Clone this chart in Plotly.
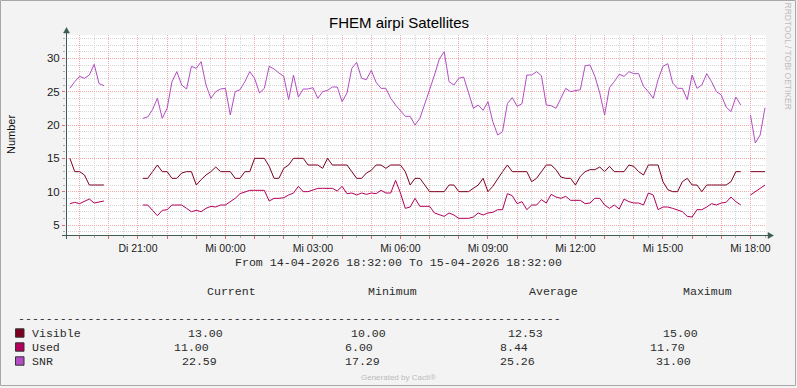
import plotly.graph_objects as go
import pandas as pd

N = None
# 10-minute samples from 14-04-2026 18:40 to 15-04-2026 18:30
times = pd.date_range("2026-04-14 18:40", "2026-04-15 18:30", freq="10min")

visible = [
    15, 13, 13, 12.5, 11, 11, 11, 11,            # 18:40-19:50
    N, N, N, N, N, N, N,                         # 20:00-21:00
    12, 12, 13, 14, 13,                          # 21:10-21:50
    13, 12, 12, 12.8, 13, 13,                    # 22
    11, 11.8, 12.5, 13, 13.7, 13,                # 23
    13, 13, 12, 12, 13, 13,                      # 00
    15, 15, 15, 13.8, 12, 12,                    # 01
    13.5, 14, 15, 15, 15, 14,                    # 02
    14, 14, 13.5, 15, 14, 14,                    # 03
    14, 14, 13, 12, 12, 12.8,                    # 04
    13.2, 14, 14, 13.5, 14, 14,                  # 05
    14, 13, 11, 12, 12, 11,                      # 06
    10, 10, 10, 10, 11, 11,                      # 07
    10, 10, 10, 10.5, 11, 12,                    # 08
    10, 10.8, 12, 13, 14, 13,                    # 09
    13, 13, 13, 11.5, 12, 13,                    # 10
    14, 14, 13.3, 12.2, 12, 12,                  # 11
    11, 12.3, 13, 13.3, 13.3, 13.7,              # 12
    13, 13.8, 13, 13, 13, 14,                    # 13
    13.8, 13, 12.5, 14, 14, 14,                  # 14
    11.5, 10.3, 10, 10, 11.5, 12,                # 15
    11, 11, 10, 11, 11, 11,                      # 16
    11, 11, 11.5, 13, 13, N,                     # 17
    13, 13, 13, 13,                              # 18
]

used = [
    8.2, 8.4, 8.2, 8.6, 8.9, 8.3, 8.4, 8.6,
    N, N, N, N, N, N, N,
    8.0, 8.0, 7.2, 6.4, 7.2,
    7.3, 8.0, 8.0, 8.0, 7.5, 7.0,
    7.2, 7.0, 7.5, 7.8, 7.7, 8.0,
    8.0, 8.5, 9.0, 9.7, 10.0, 10.2,
    10.2, 10.2, 10.2, 8.6, 9.0, 9.0,
    9.1, 9.5, 9.8, 10.8, 10.0, 10.0,
    10.3, 10.5, 10.5, 10.5, 10.5, 10.1,
    10.8, 9.7, 9.8, 9.5, 9.8, 9.6,
    9.8, 9.7, 10.2, 9.8, 9.8, 11.7,
    9.8, 7.5, 7.7, 9.0, 7.8, 7.8,
    7.8, 6.8, 6.6, 6.3, 6.8, 6.5,
    6.0, 6.0, 6.0, 6.2, 6.8, 6.5,
    6.8, 6.9, 7.3, 7.3, 9.7, 9.4,
    8.2, 8.5, 7.3, 8.0, 8.0, 8.8,
    8.3, 9.6, 9.2, 9.0, 9.3, 8.7,
    8.7, 8.7, 8.2, 8.3, 9.0, 9.0,
    8.0, 7.5, 8.0, 7.4, 8.9, 8.5,
    8.3, 8.3, 8.0, 9.8, 9.5, 7.3,
    7.7, 7.7, 7.5, 7.2, 7.0, 6.3,
    6.2, 7.3, 7.3, 7.7, 8.2, 8.0,
    8.3, 8.4, 9.2, 8.5, 8.0, N,
    9.5, 10.0, 10.4, 11.0,
]

snr = [
    25.5, 26.5, 27.3, 27.0, 27.5, 29.1, 26.2, 25.9,
    N, N, N, N, N, N, N,
    21.0, 21.2, 22.3, 24.0, 21.0,
    22.5, 26.5, 28.0, 26.0, 25.4, 28.8,
    28.5, 29.5, 26.0, 24.0, 25.0, 25.4,
    25.5, 21.5, 25.0, 25.3, 26.5, 28.0,
    27.0, 24.8, 25.5, 28.8, 28.4, 27.8,
    27.3, 23.8, 27.5, 24.2, 25.4, 25.4,
    25.6, 24.0, 25.0, 25.2, 25.7, 25.7,
    23.5, 24.8, 28.5, 29.4, 27.0, 26.8,
    28.2, 26.4, 25.5, 25.5, 24.0, 23.0,
    22.2, 21.3, 21.3, 20.0, 21.0, 23.0,
    25.3, 27.5, 29.9, 31.0, 26.5, 26.0,
    27.0, 27.2, 25.0, 22.5, 23.0, 22.2,
    23.5, 20.5, 18.5, 19.0, 23.2, 24.1,
    22.8, 23.2, 27.5, 27.5, 28.0, 27.4,
    23.0, 22.9, 22.5, 24.0, 25.5, 25.0,
    25.2, 25.3, 28.9, 29.0, 27.3, 24.8,
    21.5, 25.6, 26.5, 27.6, 27.3, 28.0,
    27.7, 27.7, 25.8, 25.0, 24.0, 26.8,
    28.8, 29.2, 26.3, 25.5, 25.5, 23.8,
    27.5, 25.5, 26.0, 27.7, 26.5, 25.0,
    24.5, 22.7, 22.0, 24.2, 23.0, N,
    21.5, 17.3, 18.5, 22.59,
]

series_names = ["Visible", "Used", "SNR"]
series_colors = ["#7E0021", "#B3005C", "#B44CC4"]
stat_current = ["13.00", "11.00", "22.59"]
stat_minimum = ["10.00", "6.00", "17.29"]
stat_average = ["12.53", "8.44", "25.26"]
stat_maximum = ["15.00", "11.70", "31.00"]

hour_ticks = pd.date_range("2026-04-14 19:00", "2026-04-15 18:00", freq="1h")
label_times = ["2026-04-14 21:00", "2026-04-15 00:00", "2026-04-15 03:00",
               "2026-04-15 06:00", "2026-04-15 09:00", "2026-04-15 12:00",
               "2026-04-15 15:00", "2026-04-15 18:00"]
label_texts = ["Di 21:00", "Mi 00:00", "Mi 03:00", "Mi 06:00", "Mi 09:00",
               "Mi 12:00", "Mi 15:00", "Mi 18:00"]
lab = dict(zip(pd.to_datetime(label_times), label_texts))
tick_text = [lab.get(t, "") for t in hour_ticks]

W_FIG, H_FIG = 797, 388
L, T, W, H = 66, 35, 700, 200


def px(x):
    return (x - L) / W


def py(y):
    return (T + H - y) / H


fig = go.Figure()
for name, vals, col in zip(series_names, [visible, used, snr], series_colors):
    fig.add_trace(go.Scatter(x=times, y=vals, mode="lines", name=name,
                             line=dict(color=col, width=1), connectgaps=False,
                             showlegend=False, hoverinfo="skip"))

AX = "#3C5C54"
GRID = "#D6D6D6"
MGRID = "#F2AAAA"

fig.update_layout(
    width=W_FIG, height=H_FIG, autosize=False,
    margin=dict(l=L, r=W_FIG - L - W, t=T, b=H_FIG - T - H, pad=0),
    paper_bgcolor="#F3F3F3", plot_bgcolor="#FFFFFF",
    font=dict(family="Liberation Sans, Arial, sans-serif", size=10.5, color="#1a1a1a"),
    xaxis=dict(type="date", range=["2026-04-14 18:32", "2026-04-15 18:32"],
               tickmode="array", tickvals=hour_ticks, ticktext=tick_text,
               ticks="outside", ticklen=3, tickcolor="#E07070", tickwidth=1,
               showgrid=True, gridcolor=MGRID, griddash="1px,1px", gridwidth=1,
               zeroline=False, showline=False,
               minor=dict(tick0="2026-04-14 18:30", dtick=1800000, showgrid=True,
                          gridcolor=GRID, griddash="1px,1px", ticks="outside",
                          ticklen=2, tickcolor="#B0B0B0"),
               tickfont=dict(size=10.5)),
    yaxis=dict(range=[3.5, 33.5], tickmode="array", tickvals=[5, 10, 15, 20, 25, 30],
               ticks="outside", ticklen=3, tickcolor="#E07070",
               showgrid=True, gridcolor=MGRID, griddash="1px,1px",
               zeroline=False, showline=False,
               minor=dict(tick0=0, dtick=1, showgrid=True, gridcolor=GRID,
                          griddash="1px,1px", ticks="outside", ticklen=2,
                          tickcolor="#B0B0B0"),
               tickfont=dict(size=11.5)),
)

shapes = []
# axes with arrows
shapes.append(dict(type="line", xref="paper", yref="paper", x0=px(66.5), x1=px(66.5),
                   y0=py(239), y1=py(31), line=dict(color=AX, width=1)))
shapes.append(dict(type="line", xref="paper", yref="paper", x0=px(62), x1=px(769),
                   y0=py(235.5), y1=py(235.5), line=dict(color=AX, width=1)))
shapes.append(dict(type="path", xref="paper", yref="paper",
                   path=f"M {px(63.5)} {py(33)} L {px(69.5)} {py(33)} L {px(66.5)} {py(27.5)} Z",
                   fillcolor=AX, line=dict(color=AX, width=0.5)))
shapes.append(dict(type="path", xref="paper", yref="paper",
                   path=f"M {px(768)} {py(232.5)} L {px(768)} {py(238.5)} L {px(773.5)} {py(235.5)} Z",
                   fillcolor=AX, line=dict(color=AX, width=0.5)))
# frame
shapes.append(dict(type="rect", xref="paper", yref="paper", x0=px(0.5), x1=px(795.5),
                   y0=py(385.5), y1=py(0.5), line=dict(color="#A8A8A8", width=1)))

annotations = []


def ann(text, x, y, size, family="Liberation Sans, Arial, sans-serif", color="#111111",
        xanchor="left", angle=0):
    annotations.append(dict(text=text, x=px(x), y=py(y), xref="paper", yref="paper",
                            showarrow=False, xanchor=xanchor, yanchor="middle",
                            textangle=angle,
                            font=dict(size=size, family=family, color=color)))


MONO = "Courier New, Liberation Mono, monospace"
MC = "#2b2b2b"
MS = 11.6
ann("FHEM airpi Satellites", 398.5, 22, 15, xanchor="center", color="#000000")
ann("Number", 11, 135, 11, xanchor="center", angle=-90)
ann("RRDTOOL / TOBI OETIKER", 787.5, 56, 8.5, xanchor="center", angle=90, color="#BDBDBD")
ann("From 14-04-2026 18:32:00 To 15-04-2026 18:32:00", 398.5, 262.5, MS,
    family=MONO, xanchor="center", color=MC)
ann("Current", 205, 291, MS, family=MONO, color=MC)
ann("Minimum", 366, 291, MS, family=MONO, color=MC)
ann("Average", 527, 291, MS, family=MONO, color=MC)
ann("Maximum", 681, 291, MS, family=MONO, color=MC)
ann("-" * 78, 16, 318, MS, family=MONO, color=MC)

row_y = [333, 347, 361]
cur_x = [186, 172.3, 179.7]
min_x = [349.3, 342.7, 342.7]
avg_x = [505.7, 498.3, 498.3]
max_x = [661, 647.7, 654.3]
for i in range(3):
    y = row_y[i]
    shapes.append(dict(type="rect", xref="paper", yref="paper", x0=px(15.5), x1=px(24),
                       y0=py(y + 4.2), y1=py(y - 4.2), fillcolor=series_colors[i],
                       line=dict(color="#333333", width=1)))
    ann(series_names[i], 30, y, MS, family=MONO, color=MC)
    ann(stat_current[i], cur_x[i], y, MS, family=MONO, color=MC)
    ann(stat_minimum[i], min_x[i], y, MS, family=MONO, color=MC)
    ann(stat_average[i], avg_x[i], y, MS, family=MONO, color=MC)
    ann(stat_maximum[i], max_x[i], y, MS, family=MONO, color=MC)

ann("Generated by Cacti®", 398.5, 377.5, 8, xanchor="center", color="#BBBBBB")

fig.update_layout(shapes=shapes, annotations=annotations)
fig.write_html("out.html", config={"displayModeBar": False},
               post_script="document.body.style.margin='0';document.body.style.padding='0';")
